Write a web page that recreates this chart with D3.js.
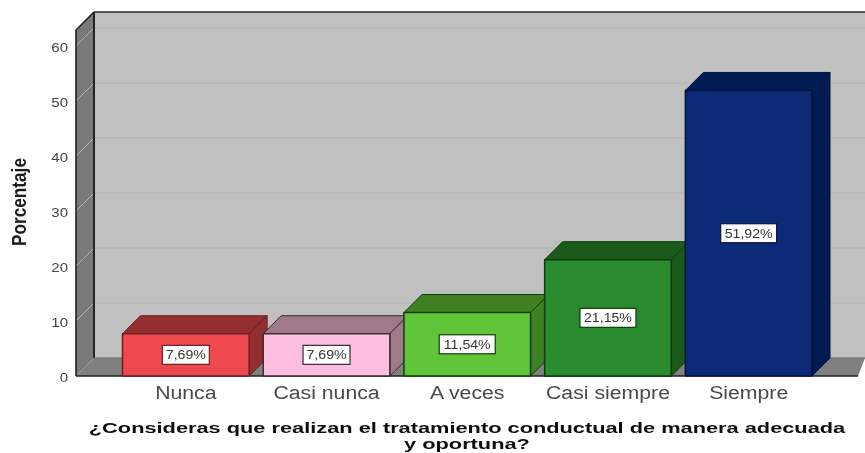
<!DOCTYPE html>
<html><head><meta charset="utf-8">
<script src="https://cdn.jsdelivr.net/npm/d3@7/dist/d3.min.js"></script>
<style>html,body{margin:0;padding:0;background:#fff}svg{display:block}text{font-family:"Liberation Sans",Arial,sans-serif}</style>
</head><body><svg id="c" width="865" height="453"></svg>
<script>
const categories=["Nunca","Casi nunca","A veces","Casi siempre","Siempre"];
const values=[7.69,7.69,11.54,21.15,51.92];
const valueLabels=["7,69%","7,69%","11,54%","21,15%","51,92%"];
const frontColors=["#ee4a50","#fdbfe0","#5ec437","#2a8a2e","#0a2a78"];
const darkColors=["#932d2f","#9e7a8b","#3f7f24","#1d5a1a","#061c52"];
const edgeColors=["#6e1f22","#3a2a35","#123d10","#0c3a0c","#04123a"];
const yTicks=[0,10,20,30,40,50,60];
const yTitle="Porcentaje";
const xTitleLines=["¿Consideras que realizan el tratamiento conductual de manera adecuada","y oportuna?"];

const svg=d3.select("#c");
const dx=18,dy=-18;
const y=d3.scaleLinear().domain([0,60]).range([376,46]);
const x=d3.scaleBand().domain(categories).range([122.5,812]).paddingInner(0.1).paddingOuter(0);
const left=76,right=847,topBack=12,base=y(0);
const soft=svg.append("defs").append("filter").attr("id","soft").append("feGaussianBlur").attr("stdDeviation",0.5);
const g=svg.append("g").attr("filter","url(#soft)");
const poly=(pts,fill,stroke,sw)=>g.append("polygon").attr("points",pts.map(p=>p.join(",")).join(" ")).attr("fill",fill).attr("stroke",stroke||"none").attr("stroke-width",sw||0).attr("stroke-linejoin","round");
const widen=(sel,f)=>sel.each(function(){const t=d3.select(this);t.attr("lengthAdjust","spacingAndGlyphs").attr("textLength",this.getComputedTextLength()*f);});

// back wall, side wall, floor
poly([[left+dx,topBack],[right+dx+20,topBack],[right+dx+20,base+dy],[left+dx,base+dy]],"#c0c0c0");
poly([[left,base],[left+dx,base+dy],[right+dx,base+dy],[right+11,base]],"#808080");
poly([[left,topBack-dy],[left+dx,topBack],[left+dx,base+dy],[left,base]],"#797979");
// gridlines
yTicks.filter(d=>d>0).forEach(d=>{
  g.append("line").attr("x1",left+dx).attr("x2",865).attr("y1",y(d)+dy).attr("y2",y(d)+dy).attr("stroke","#b0b0b0").attr("stroke-width",1);
  g.append("line").attr("x1",left).attr("x2",left+dx).attr("y1",y(d)).attr("y2",y(d)+dy).attr("stroke","#b5b5b5").attr("stroke-width",1);
});
// wall outlines
g.append("line").attr("x1",left+dx).attr("x2",865).attr("y1",topBack).attr("y2",topBack).attr("stroke","#2a2a2a").attr("stroke-width",1.4);
g.append("line").attr("x1",left+dx).attr("x2",left+dx).attr("y1",topBack).attr("y2",base+dy).attr("stroke","#222").attr("stroke-width",2);
g.append("line").attr("x1",left+dx).attr("x2",865).attr("y1",base+dy).attr("y2",base+dy).attr("stroke","#6a6a6a").attr("stroke-width",1);
g.append("polyline").attr("points",[[left,base],[left,topBack-dy],[left+dx,topBack]].map(p=>p.join(",")).join(" ")).attr("fill","none").attr("stroke","#222").attr("stroke-width",1.6);
g.append("line").attr("x1",left).attr("x2",right+11).attr("y1",base).attr("y2",base).attr("stroke","#222").attr("stroke-width",1.6);

// bars
categories.forEach((c,i)=>{
  const x0=x(c),x1=x0+x.bandwidth(),yt=y(values[i]),e=edgeColors[i];
  poly([[x0,yt],[x0+dx,yt+dy],[x1+dx,yt+dy],[x1,yt]],darkColors[i],e,1);
  poly([[x1,yt],[x1+dx,yt+dy],[x1+dx,base+dy],[x1,base]],darkColors[i],e,1);
  poly([[x0,yt],[x1,yt],[x1,base],[x0,base]],frontColors[i],e,1.5);
});
// value labels
categories.forEach((c,i)=>{
  const cx=x(c)+x.bandwidth()/2,cy=(y(values[i])+base)/2;
  const w=i<2?47:56;
  g.append("rect").attr("x",cx-w/2).attr("y",cy-9.5).attr("width",w).attr("height",19).attr("fill","#fff").attr("stroke",edgeColors[i]).attr("stroke-width",1.2);
  const t=g.append("text").attr("x",cx).attr("y",cy+4.5).attr("text-anchor","middle").attr("font-size",12.5).attr("fill","#333").text(valueLabels[i]);
  widen(t,1.13);
});
// axes
const yAxis=d3.axisLeft(y).tickValues(yTicks).tickSize(0).tickPadding(8);
const ya=svg.append("g").attr("transform",`translate(${left},1.5)`).attr("filter","url(#soft)").call(yAxis);
ya.select(".domain").remove();
ya.selectAll("text").attr("font-size",12).attr("fill","#444").style("font-family",'"Liberation Sans",Arial,sans-serif').call(widen,1.25);
const xAxis=d3.axisBottom(x).tickSize(0).tickPadding(10);
const xa=svg.append("g").attr("transform",`translate(0,${base})`).attr("filter","url(#soft)").call(xAxis);
xa.select(".domain").remove();
xa.selectAll("text").attr("font-size",18).attr("fill","#4a4a4a").style("font-family",'"Liberation Sans",Arial,sans-serif').call(widen,1.18);
// titles
svg.append("text").attr("transform","translate(26,202) rotate(-90) scale(0.86,1)").attr("text-anchor","middle").attr("font-size",20).attr("font-weight","bold").attr("fill","#1a1a1a").attr("filter","url(#soft)").text(yTitle);
svg.selectAll(".xt").data(xTitleLines).join("text").attr("class","xt").attr("x",467).attr("y",(d,i)=>433+i*16).attr("text-anchor","middle").attr("font-size",15.5).attr("font-weight","bold").attr("fill","#111").attr("filter","url(#soft)").text(d=>d).call(widen,1.405);
</script></body></html>
